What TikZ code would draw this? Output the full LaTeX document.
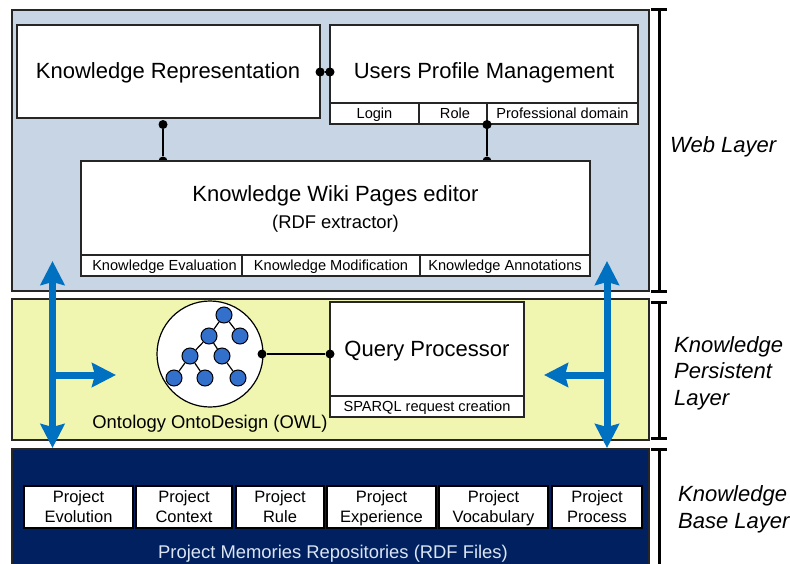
\documentclass[tikz,border=0pt]{standalone}
\usepackage{fontspec}
\setmainfont{Liberation Sans}
\usetikzlibrary{arrows.meta, positioning}
\definecolor{webbg}{RGB}{200, 213, 229}
\definecolor{persistbg}{RGB}{240, 246, 176}
\definecolor{basebg}{RGB}{0, 32, 96}
\definecolor{basetextc}{RGB}{220, 230, 242}
\definecolor{arrowblue}{RGB}{0, 112, 192}
\definecolor{treeblue}{RGB}{51, 112, 204}
\definecolor{framegray}{RGB}{38, 38, 38}
\tikzset{
  layerbox/.style={draw=framegray, line width=1.2pt, inner sep=0pt, outer sep=0pt},
  mainbox/.style={draw=framegray, line width=1.2pt, fill=white, inner sep=0pt, outer sep=0pt},
  bigtext/.style={font=\fontsize{22}{26}\selectfont, inner sep=0pt, anchor=base},
  midtext/.style={font=\fontsize{18.4}{22}\selectfont, inner sep=0pt, anchor=base},
  celltext/.style={font=\fontsize{14.6}{17}\selectfont, inner sep=0pt, anchor=base},
  projbox/.style={draw=black, line width=1.2pt, fill=white, inner sep=0pt, outer sep=0pt, align=center, text height=33pt, text depth=3pt, font=\fontsize{16.5}{20}\selectfont},
  sidetext/.style={font=\fontsize{22}{26.5}\selectfont\itshape, inner sep=0pt, align=left, anchor=west, text height=16pt, text depth=5pt},
  linkdot/.style={circle, fill=black, inner sep=0pt, minimum size=9pt},
  treedot/.style={circle, draw=black, line width=1pt, fill=treeblue, inner sep=0pt, minimum size=16pt},
  linkline/.style={line width=1.2pt, black},
  bluearrow/.style={line width=7pt, arrowblue, {Stealth[length=24pt,width=24pt,inset=3pt]}-{Stealth[length=24pt,width=24pt,inset=3pt]}},
  bluebranch/.style={line width=7pt, arrowblue, -{Stealth[length=24pt,width=24pt,inset=3pt]}},
  bracket/.style={line width=3pt, black}
}
\begin{document}
\begin{tikzpicture}[x=1pt, y=-1pt]
  \useasboundingbox (0,0) rectangle (790,563);

  % Layers
  \node[layerbox, fill=webbg, minimum width=637pt, minimum height=281pt] (weblayer) at (330.5,150.5) {};
  \node[layerbox, fill=persistbg, minimum width=637pt, minimum height=141pt] (persistlayer) at (330.5,369.5) {};
  \node[layerbox, fill=basebg, minimum width=637pt, minimum height=122pt] (baselayer) at (330.5,510) {};

  % Web layer links
  \node[linkdot] (dotrepr) at (320,72) {};
  \node[linkdot] (dotusers) at (330,72) {};
  \node[linkdot] (dotreprlow) at (163,124.5) {};
  \node[linkdot] (dotwikileft) at (163,161) {};
  \node[linkdot] (dotrole) at (487,124.5) {};
  \node[linkdot] (dotwikiright) at (487,161) {};
  \draw[linkline] (dotreprlow) -- (dotwikileft);
  \draw[linkline] (dotrole) -- (dotwikiright);

  % Web layer boxes
  \node[mainbox, minimum width=303pt, minimum height=93pt] (reprbox) at (168.5,71.5) {};
  \node[bigtext] (reprtext) at (168,78) {Knowledge Representation};
  \node[linkdot] (dotreprtop) at (dotrepr) {};

  \node[mainbox, minimum width=308pt, minimum height=78pt] (usersbox) at (484,64) {};
  \node[bigtext] (userstext) at (484,78) {Users Profile Management};
  \node[linkdot] (dotuserstop) at (dotusers) {};
  \draw[linkline] (dotreprtop) -- (dotuserstop);
  \node[mainbox, minimum width=89pt, minimum height=21pt] (loginbox) at (374.5,113.5) {};
  \node[celltext] (logintext) at (374.5,118) {Login};
  \node[mainbox, minimum width=68pt, minimum height=21pt] (rolebox) at (453,113.5) {};
  \node[celltext] (roletext) at (455,118) {Role};
  \node[mainbox, minimum width=151pt, minimum height=21pt] (domainbox) at (562.5,113.5) {};
  \node[celltext] (domaintext) at (562.5,118) {Professional domain};
  \node[linkdot] (dotroletop) at (dotrole) {};

  \node[mainbox, minimum width=509pt, minimum height=94pt] (wikibox) at (335.5,208) {};
  \node[bigtext] (wikitext) at (335.5,201) {Knowledge Wiki Pages editor};
  \node[midtext] (rdftext) at (335.5,228) {(RDF extractor)};
  \node[mainbox, minimum width=161pt, minimum height=21pt] (evalbox) at (161.5,265.5) {};
  \node[celltext] (evaltext) at (164.5,270.5) {Knowledge Evaluation};
  \node[mainbox, minimum width=178pt, minimum height=21pt] (modifbox) at (331,265.5) {};
  \node[celltext] (modiftext) at (331,270.5) {Knowledge Modification};
  \node[mainbox, minimum width=170pt, minimum height=21pt] (annotbox) at (505,265.5) {};
  \node[celltext] (annottext) at (505,270.5) {Knowledge Annotations};

  % Ontology
  \node[circle, draw=black, line width=1.2pt, fill=white, inner sep=0pt, minimum size=106pt] (ontocircle) at (210,354) {};
  \node[treedot] (treeroot) at (224,315) {};
  \node[treedot] (treeleft) at (209,336) {};
  \node[treedot] (treeright) at (240,336) {};
  \node[treedot] (treemidl) at (190,356) {};
  \node[treedot] (treemidr) at (222,356) {};
  \node[treedot] (treelowa) at (174,378) {};
  \node[treedot] (treelowb) at (205,378) {};
  \node[treedot] (treelowc) at (238,378) {};
  \foreach \from/\to in {treeroot/treeleft, treeroot/treeright, treeleft/treemidl, treeleft/treemidr, treemidl/treelowa, treemidl/treelowb, treemidr/treelowc}
    \draw[linkline] (\from) -- (\to);
  \node[midtext] (ontotext) at (210,428) {Ontology OntoDesign (OWL)};

  % Query processor
  \node[mainbox, minimum width=194pt, minimum height=94pt] (querybox) at (427,349) {};
  \node[bigtext] (querytext) at (427,356) {Query Processor};
  \node[mainbox, minimum width=194pt, minimum height=21pt] (sparqlbox) at (427,406.5) {};
  \node[celltext] (sparqltext) at (427,411) {SPARQL request creation};
  \node[linkdot] (dotonto) at (262,354) {};
  \node[linkdot] (dotquery) at (330,354) {};
  \draw[linkline] (dotonto) -- (dotquery);

  % Base layer
  \node[projbox, minimum width=109pt, minimum height=42pt] (projevol) at (78.5,507) {Project\\Evolution};
  \node[projbox, minimum width=96pt, minimum height=42pt] (projctx) at (184,507) {Project\\Context};
  \node[projbox, minimum width=88pt, minimum height=42pt] (projrule) at (280,507) {Project\\Rule};
  \node[projbox, minimum width=109pt, minimum height=42pt] (projexp) at (381.5,507) {Project\\Experience};
  \node[projbox, minimum width=109pt, minimum height=42pt] (projvoc) at (493.5,507) {Project\\Vocabulary};
  \node[projbox, minimum width=90pt, minimum height=42pt] (projproc) at (597,507) {Project\\Process};
  \node[midtext, text=basetextc] (basetext) at (333,558) {Project Memories Repositories (RDF Files)};

  % Blue arrows
  \coordinate (leftup) at (52.5,261);
  \coordinate (leftdown) at (52.5,448);
  \coordinate (leftjoin) at (52.5,375);
  \coordinate (lefttip) at (116,375);
  \coordinate (rightup) at (607,261);
  \coordinate (rightdown) at (607,448);
  \coordinate (rightjoin) at (607,375);
  \coordinate (righttip) at (544,375);
  \draw[bluearrow] (leftup) -- (leftdown);
  \draw[bluebranch] (leftjoin) -- (lefttip);
  \draw[bluearrow] (rightup) -- (rightdown);
  \draw[bluebranch] (rightjoin) -- (righttip);

  % Layer brackets
  \coordinate (webtop) at (659,9.5);
  \coordinate (webend) at (659,291.5);
  \coordinate (perstop) at (659,302);
  \coordinate (persend) at (659,438);
  \coordinate (basetop) at (659,449);
  \coordinate (baseend) at (659,566);
  \draw[bracket] (webtop) -- (webend);
  \draw[bracket] (perstop) -- (persend);
  \draw[bracket] (basetop) -- (baseend);
  \foreach \capat in {webtop, webend, perstop, persend, basetop}
    \draw[bracket] ([xshift=-8pt]\capat) -- ([xshift=8pt]\capat);

  % Layer names
  \node[font=\fontsize{22}{26}\selectfont\itshape, inner sep=0pt, anchor=base west] (webname) at (670,152) {Web Layer};
  \node[sidetext] (persname) at (674,399.5) {Knowledge\\Persistent\\Layer};
  \node[sidetext] (basename) at (678,522.5) {Knowledge\\Base Layer};
\end{tikzpicture}
\end{document}
